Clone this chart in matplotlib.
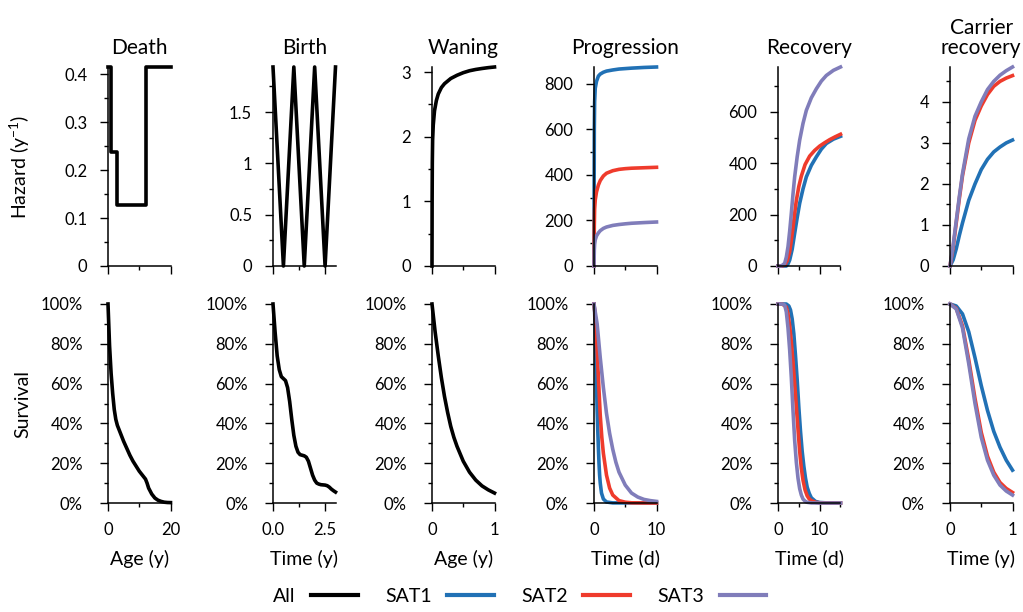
import matplotlib
matplotlib.use("Agg")
import matplotlib.pyplot as plt
from matplotlib.lines import Line2D
from matplotlib.ticker import MultipleLocator, FuncFormatter, FormatStrFormatter, PercentFormatter

plt.rcParams['font.family'] = ['Lato', 'DejaVu Sans']
plt.rcParams['mathtext.fontset'] = 'custom'
plt.rcParams['mathtext.rm'] = 'Lato'
plt.rcParams['mathtext.default'] = 'regular'

C_ALL = '#000000'
C_SAT1 = '#2171b5'
C_SAT2 = '#ef3b2c'
C_SAT3 = '#807dba'

# ---- Death ----
death_age = [0, 1, 3, 12, 20]
death_hazard = [0.415, 0.237, 0.128, 0.415, 0.415]
death_s_age = [0, 0.5, 1, 1.5, 2, 2.5, 3, 4, 5, 6, 7, 8, 9, 10, 11, 12, 12.5, 13, 14, 15, 16, 17, 18, 19, 20]
death_surv = [100, 79, 65, 55, 47, 42, 39, 35, 31, 27.5, 24, 21, 18.5, 16, 14, 12, 10, 7.5, 4.5, 2.5, 1.4, 0.8, 0.4, 0.25, 0.2]

# ---- Birth ----
birth_t = [0, 0.5, 1, 1.5, 2, 2.5, 3]
birth_hazard = [1.94, 0, 1.94, 0, 1.94, 0, 1.94]
birth_s_t = [0, 0.1, 0.2, 0.3, 0.4, 0.5, 0.6, 0.7, 0.8, 0.9, 1.0, 1.1, 1.2, 1.3, 1.4, 1.5,
             1.6, 1.7, 1.8, 1.9, 2.0, 2.1, 2.2, 2.3, 2.4, 2.5, 2.6, 2.7, 2.8, 2.9, 3.0]
birth_surv = [100, 86, 74, 67, 63.5, 62.5, 61.5, 58, 51, 42, 34, 28.5, 25.5, 24.3, 24, 23.7,
              23, 21, 17.5, 14, 11.5, 10, 9.5, 9.2, 9.1, 9, 8.7, 8, 7, 6.2, 5.5]

# ---- Waning ----
waning_t = [0, 0.002, 0.005, 0.01, 0.02, 0.04, 0.07, 0.1, 0.15, 0.2, 0.3, 0.4, 0.5, 0.6, 0.7, 0.8, 0.9, 1.0]
waning_hazard = [0, 1.0, 1.6, 1.95, 2.18, 2.4, 2.56, 2.66, 2.76, 2.82, 2.9, 2.95, 2.99, 3.02, 3.04, 3.055, 3.068, 3.078]
waning_s_t = [0, 0.05, 0.1, 0.15, 0.2, 0.25, 0.3, 0.35, 0.4, 0.5, 0.6, 0.7, 0.8, 0.9, 1.0]
waning_surv = [100, 86, 74, 63, 53.5, 45.5, 38.5, 33, 28.5, 21, 15.5, 11.5, 8.6, 6.6, 5]

# ---- Progression ----
prog_t1 = [0, 0.02, 0.05, 0.1, 0.2, 0.4, 0.7, 1, 1.5, 2, 3, 4, 5, 6, 7, 8, 9, 10]
prog_h1 = [0, 300, 600, 720, 780, 810, 833, 842, 850, 855, 860, 864, 866, 868, 869.5, 871, 872, 873]
prog_t2 = [0, 0.05, 0.1, 0.2, 0.4, 0.7, 1, 1.5, 2, 3, 4, 5, 6, 8, 10]
prog_h2 = [0, 180, 250, 290, 325, 355, 375, 395, 407, 418, 424, 427, 429, 431, 433]
prog_t3 = [0, 0.05, 0.1, 0.2, 0.4, 0.7, 1, 1.5, 2, 3, 4, 5, 6, 8, 10]
prog_h3 = [0, 70, 95, 115, 132, 145, 155, 165, 171, 178, 182, 185, 187.5, 190.5, 193]

prog_s_t1 = [0, 0.1, 0.2, 0.3, 0.4, 0.5, 0.6, 0.7, 0.8, 0.9, 1.0, 1.2, 1.5, 2, 3, 10]
prog_s1 = [100, 96, 87, 74, 60, 47, 37, 28, 20, 14, 10, 5, 2, 0.5, 0.05, 0]
prog_s_t2 = [0, 0.25, 0.5, 0.75, 1, 1.25, 1.5, 2, 2.5, 3, 4, 5, 6, 8, 10]
prog_s2 = [100, 92, 77, 60, 44, 33, 25, 14, 7.5, 4, 1.2, 0.4, 0.1, 0.02, 0]
prog_s_t3 = [0, 0.5, 1, 1.5, 2, 2.5, 3, 3.5, 4, 5, 6, 7, 8, 9, 10]
prog_s3 = [100, 90, 73, 58, 45, 35, 27, 20.5, 15.5, 9, 5, 3, 1.8, 1.2, 0.8]

# ---- Recovery ----
rec_t1 = [0, 2, 2.4, 2.8, 3.4, 4.0, 4.6, 5.2, 6.0, 6.8, 8.0, 9.2, 10.4, 11.6, 13.3, 15]
rec_h1 = [0, 0, 8, 23, 65, 127, 188, 244, 300, 347, 392, 425, 455, 477, 494, 505]
rec_t2 = [0, 1, 1.6, 2.2, 2.8, 3.2, 3.6, 4.0, 4.4, 5.0, 5.6, 6.5, 7.6, 8.8, 10, 11.2, 12.4, 13.7, 15]
rec_h2 = [0, 0, 4, 20, 55, 100, 150, 205, 255, 310, 350, 395, 428, 450, 467, 480, 492, 503, 513]
rec_t3 = [0, 0.8, 1.6, 2.0, 2.4, 2.8, 3.2, 3.6, 4.0, 4.6, 5.2, 6.0, 6.8, 8.0, 9.2, 10.4, 11.6, 13.3, 15]
rec_h3 = [0, 0, 10, 35, 75, 135, 205, 280, 347, 425, 490, 555, 606, 655, 690, 720, 742, 762, 775]

rec_s_t1 = [0, 1, 2, 2.6, 3, 3.4, 3.8, 4.2, 4.6, 5, 5.4, 5.8, 6.2, 6.6, 7, 7.5, 8, 9, 10, 12, 15]
rec_s1 = [100, 100, 100, 99, 97, 92.5, 85, 74, 62, 48, 36, 26, 18.5, 12.5, 8, 4.8, 2.6, 0.8, 0.25, 0.02, 0]
rec_s_t2 = [0, 1, 2, 2.4, 2.8, 3.2, 3.6, 4, 4.4, 4.8, 5.2, 5.6, 6, 6.5, 7, 7.5, 8, 9, 10, 15]
rec_s2 = [100, 100, 98.5, 95, 89, 81, 71, 60, 48.5, 37, 26, 17.5, 11.5, 6.5, 3.6, 2, 1.2, 0.35, 0.1, 0]
rec_s_t3 = [0, 1, 1.6, 2, 2.4, 2.8, 3.2, 3.6, 4, 4.4, 4.8, 5.2, 5.6, 6, 6.5, 7, 8, 10, 15]
rec_s3 = [100, 100, 99.5, 96, 88, 77, 63, 46.5, 31.5, 20.5, 12.5, 7.2, 4, 2, 0.9, 0.35, 0.05, 0, 0]

# ---- Carrier recovery ----
car_t = [0, 0.05, 0.1, 0.15, 0.2, 0.3, 0.4, 0.5, 0.6, 0.7, 0.8, 0.9, 1.0]
car_h1 = [0, 0.15, 0.42, 0.75, 1.05, 1.6, 2.0, 2.35, 2.6, 2.78, 2.9, 3.0, 3.07]
car_h2 = [0, 0.45, 1.05, 1.65, 2.2, 3.0, 3.55, 3.9, 4.18, 4.38, 4.5, 4.58, 4.64]
car_h3 = [0, 0.5, 1.1, 1.7, 2.25, 3.1, 3.65, 4.0, 4.3, 4.5, 4.65, 4.76, 4.85]

car_s_t = [0, 0.1, 0.2, 0.3, 0.4, 0.5, 0.6, 0.7, 0.8, 0.9, 1.0]
car_s1 = [100, 99, 95, 86, 73, 59, 46.5, 36, 28, 21.5, 16.5]
car_s2 = [100, 97.8, 89, 72, 52.5, 35.5, 23.5, 15.5, 10.3, 7.3, 5.3]
car_s3 = [100, 97.5, 88, 70, 50, 33, 21.5, 14, 9, 6, 4]

titles = ['Death', 'Birth', 'Waning', 'Progression', 'Recovery', 'Carrier\nrecovery']
xlabels = ['Age (y)', 'Time (y)', 'Age (y)', 'Time (d)', 'Time (d)', 'Time (y)']
xmax = [20, 3, 1, 10, 15, 1]
xmajor = [20, 2.5, 1, 10, 10, 1]
xminor = [10, 1.25, 0.5, 5, 5, 0.5]
ymajor = [0.1, 0.5, 1, 200, 200, 1]
yminor = [0.05, 0.25, 0.5, 100, 100, 0.5]

hazard_lines = [
    [(death_age, death_hazard, C_ALL)],
    [(birth_t, birth_hazard, C_ALL)],
    [(waning_t, waning_hazard, C_ALL)],
    [(prog_t1, prog_h1, C_SAT1), (prog_t2, prog_h2, C_SAT2), (prog_t3, prog_h3, C_SAT3)],
    [(rec_t1, rec_h1, C_SAT1), (rec_t2, rec_h2, C_SAT2), (rec_t3, rec_h3, C_SAT3)],
    [(car_t, car_h1, C_SAT1), (car_t, car_h2, C_SAT2), (car_t, car_h3, C_SAT3)],
]
surv_lines = [
    [(death_s_age, death_surv, C_ALL)],
    [(birth_s_t, birth_surv, C_ALL)],
    [(waning_s_t, waning_surv, C_ALL)],
    [(prog_s_t1, prog_s1, C_SAT1), (prog_s_t2, prog_s2, C_SAT2), (prog_s_t3, prog_s3, C_SAT3)],
    [(rec_s_t1, rec_s1, C_SAT1), (rec_s_t2, rec_s2, C_SAT2), (rec_s_t3, rec_s3, C_SAT3)],
    [(car_s_t, car_s1, C_SAT1), (car_s_t, car_s2, C_SAT2), (car_s_t, car_s3, C_SAT3)],
]

W, H = 1023, 612
fig = plt.figure(figsize=(W / 100, H / 100), dpi=100)

lefts = [108, 273, 432, 594, 778, 950]
ax_w = 62.5
ax_h = 199
top_row_bottom = 266
bot_row_bottom = 503
LW = 2.6


def style(ax, ypad):
    for s in ['top', 'right']:
        ax.spines[s].set_visible(False)
    for s in ['left', 'bottom']:
        ax.spines[s].set_linewidth(1.1)
    ax.tick_params(which='major', length=6, width=1.0, labelsize=12)
    ax.tick_params(which='minor', length=3, width=1.0)
    ax.tick_params(axis='y', which='major', pad=ypad)
    ax.tick_params(axis='x', which='major', pad=8)


g = FuncFormatter(lambda v, p: f'{v:g}')

for i in range(6):
    x0 = lefts[i] / W
    ax_top = fig.add_axes([x0, 1 - top_row_bottom / H, ax_w / W, ax_h / H])
    ax_bot = fig.add_axes([x0, 1 - bot_row_bottom / H, ax_w / W, ax_h / H])

    ymax = 0
    for xs, ys, c in hazard_lines[i]:
        if i == 0:
            ax_top.step(xs, ys, where='post', color=c, lw=LW, clip_on=False)
        else:
            ax_top.plot(xs, ys, color=c, lw=LW, clip_on=False)
        ymax = max(ymax, max(ys))
    ax_top.set_ylim(0, ymax)

    for xs, ys, c in surv_lines[i]:
        ax_bot.plot(xs, ys, color=c, lw=LW, clip_on=False)
    ax_bot.set_ylim(0, 100)

    style(ax_top, 9)
    style(ax_bot, 12)
    for ax in (ax_top, ax_bot):
        ax.set_xlim(0, xmax[i])
        ax.xaxis.set_major_locator(MultipleLocator(xmajor[i]))
        ax.xaxis.set_minor_locator(MultipleLocator(xminor[i]))

    ax_top.yaxis.set_major_locator(MultipleLocator(ymajor[i]))
    ax_top.yaxis.set_minor_locator(MultipleLocator(yminor[i]))
    ax_top.yaxis.set_major_formatter(g)
    ax_top.tick_params(axis='x', labelbottom=False)

    ax_bot.yaxis.set_major_locator(MultipleLocator(20))
    ax_bot.yaxis.set_minor_locator(MultipleLocator(10))
    ax_bot.yaxis.set_major_formatter(PercentFormatter(100, decimals=0))
    if i == 1:
        ax_bot.xaxis.set_major_formatter(FormatStrFormatter('%.1f'))
    else:
        ax_bot.xaxis.set_major_formatter(g)
    ax_bot.set_xlabel(xlabels[i], fontsize=14, labelpad=8)

    ax_top.set_title(titles[i], fontsize=15, pad=9, linespacing=1.05)

    if i == 0:
        ax_top.set_ylabel('Hazard (y$^{-1}$)', fontsize=14)
        ax_top.yaxis.set_label_coords(-1.22, 0.5)
        ax_bot.set_ylabel('Survival', fontsize=14)
        ax_bot.yaxis.set_label_coords(-1.22, 0.5)

handles = [Line2D([], [], color=C_ALL, lw=3),
           Line2D([], [], color=C_SAT1, lw=3),
           Line2D([], [], color=C_SAT2, lw=3),
           Line2D([], [], color=C_SAT3, lw=3)]
fig.legend(handles, ['All', 'SAT1', 'SAT2', 'SAT3'], loc='center', bbox_to_anchor=(0.508, 1 - 596 / H),
           ncol=4, frameon=False, markerfirst=False, handlelength=2.4, columnspacing=1.4,
           handletextpad=0.8, fontsize=14)

fig.savefig('out.png', dpi=100)
